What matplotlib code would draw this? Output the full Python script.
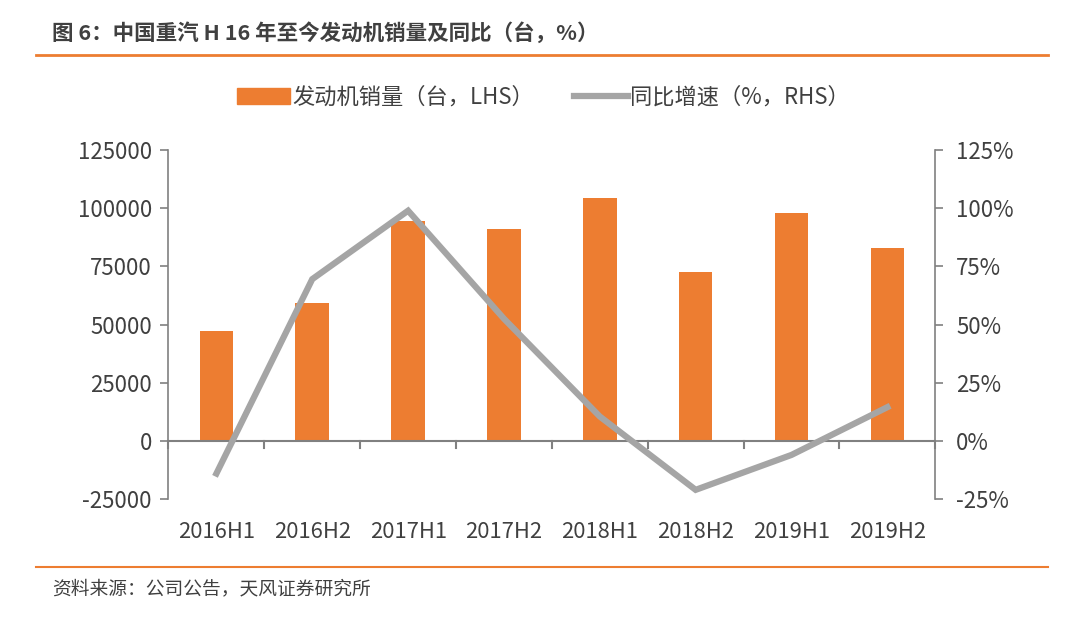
import matplotlib
matplotlib.use("Agg")
import matplotlib.pyplot as plt
import numpy as np
from matplotlib.patches import Patch
from matplotlib.lines import Line2D

plt.rcParams['font.family'] = ['Noto Sans CJK SC', 'DejaVu Sans']

periods = ['2016H1', '2016H2', '2017H1', '2017H2', '2018H1', '2018H2', '2019H1', '2019H2']
sales = [47400, 59300, 94400, 91000, 104400, 72400, 98100, 82800]
yoy = [-14.0, 69.5, 98.9, 52.5, 10.5, -21.0, -6.0, 14.5]

orange = '#ED7D31'
gray = '#A5A5A5'
axis_gray = '#808080'
text_col = '#404040'

fig = plt.figure(figsize=(10.8, 6.17), dpi=100)
ax = fig.add_axes([0.156, 0.191, 0.71, 0.566])
ax2 = ax.twinx()

x = np.arange(len(periods))
ax.bar(x, sales, width=0.35, color=orange, zorder=2)
ax2.plot(x, yoy, color=gray, lw=4.5, zorder=3, solid_joinstyle='miter')

ax.set_xlim(-0.5, 7.5)
ax.set_ylim(-25000, 125000)
ax.set_yticks(np.arange(-25000, 125001, 25000))
ax.set_yticklabels([f'{v:d}' for v in range(-25000, 125001, 25000)])
ax2.set_ylim(-25, 125)
ax2.set_yticks(np.arange(-25, 126, 25))
ax2.set_yticklabels([f'{v:d}%' for v in range(-25, 126, 25)])

# category axis drawn at zero
ax.set_xticks(x)
ax.set_xticklabels(periods)
ax.tick_params(axis='x', which='major', length=0, pad=16, labelsize=15.8, colors=text_col)
ax.axhline(0, color=axis_gray, lw=1.5, zorder=4)
for b in np.arange(-0.5, 8, 1):
    ax.plot([b, b], [0, -3200], color=axis_gray, lw=1.5, zorder=4, clip_on=False)

for a in (ax, ax2):
    a.spines['top'].set_visible(False)
    a.spines['bottom'].set_visible(False)
    a.spines['left'].set_color(axis_gray)
    a.spines['right'].set_color(axis_gray)
    a.spines['left'].set_linewidth(1.2)
    a.spines['right'].set_linewidth(1.2)
ax.spines['right'].set_visible(False)
ax2.spines['left'].set_visible(False)
ax.tick_params(axis='y', length=6, width=1.2, color=axis_gray, labelsize=16, labelcolor=text_col, pad=6)
ax2.tick_params(axis='y', length=6, width=1.2, color=axis_gray, labelsize=16, labelcolor=text_col, pad=9)

handles = [Patch(color=orange), Line2D([0], [0], color=gray, lw=4.5)]
labels = ['发动机销量（台，LHS）', '同比增速（%，RHS）']
fig.legend(handles, labels, loc='center', bbox_to_anchor=(0.503, 0.842), ncol=2, frameon=False,
           fontsize=16, handlelength=2.4, handletextpad=0.1, columnspacing=1.8,
           labelcolor=text_col)

fig.text(0.048, 0.946, '图 6：中国重汽 H 16 年至今发动机销量及同比（台，%）', fontsize=15.5,
         fontweight='bold', color=text_col, va='center')
fig.add_artist(Line2D([0.033, 0.97], [0.911, 0.911], color=orange, lw=2))
fig.add_artist(Line2D([0.033, 0.97], [0.081, 0.081], color=orange, lw=1.5))
fig.text(0.048, 0.046, '资料来源：公司公告，天风证券研究所', fontsize=13.5, color=text_col, va='center')

fig.savefig('out.png', dpi=100)
